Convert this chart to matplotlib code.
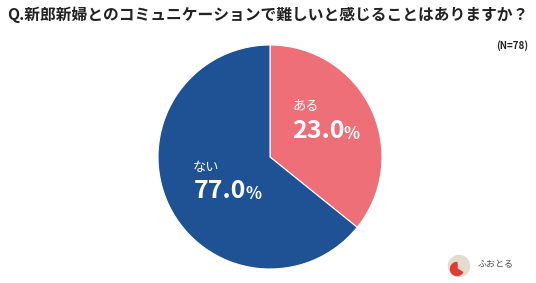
import matplotlib
matplotlib.use("Agg")
import matplotlib.pyplot as plt
from matplotlib.patches import Circle, Wedge

plt.rcParams['font.family'] = ['Noto Sans CJK JP', 'DejaVu Sans']

# data (wedge sizes as drawn, labels as printed)
categories = ['ある', 'ない']
labels_pct = ['23.0', '77.0']
wedge_sizes = [35.8, 64.2]
colors = ['#EE6F78', '#1E5295']
title = 'Q.新郎新婦とのコミュニケーションで難しいと感じることはありますか？'
n_note = '(N=78)'

W, H = 536, 283
fig = plt.figure(figsize=(W / 100, H / 100), dpi=100)
fig.patch.set_facecolor('white')

# pie axes: centre (270,157) px, radius 112 px
cx, cy, r = 270, 157, 112
ax = fig.add_axes([(cx - r) / W, (H - cy - r) / H, 2 * r / W, 2 * r / H])
ax.pie(wedge_sizes, colors=colors, startangle=90, counterclock=False, radius=1,
       wedgeprops=dict(edgecolor='white', linewidth=0.8))
ax.set_xlim(-1, 1)
ax.set_ylim(-1, 1)
ax.set_aspect('equal')
ax.axis('off')


def px(x, y):
    return (x - cx) / r, (cy - y) / r


fig.canvas.draw()
renderer = fig.canvas.get_renderer()

label_pos = [(292, 106, 292, 131), (193, 167, 194, 191)]
for cat, pct, (lx, ly, nx, ny) in zip(categories, labels_pct, label_pos):
    ax.text(*px(lx, ly), cat, color='white', fontsize=9.5, ha='left', va='center')
    t = ax.text(*px(nx, ny), pct, color='white', fontsize=18, fontweight='bold',
                ha='left', va='center')
    bb = t.get_window_extent(renderer)
    x_end = ax.transData.inverted().transform((bb.x1, bb.y0))[0]
    ax.text(x_end - 0.012, (cy - ny) / r - 0.03, '%', color='white', fontsize=12,
            fontweight='bold', ha='left', va='center')

fig.text(7 / W, 1 - 15 / H, title, fontsize=11.35, fontweight='bold',
         color='#222222', ha='left', va='center')
fig.text(528 / W, 1 - 46 / H, n_note, fontsize=7, fontweight='bold',
         color='#222222', ha='right', va='center')

# small logo at the bottom right
lax = fig.add_axes([440 / W, 0, 96 / W, 44 / H])
lax.set_xlim(0, 96)
lax.set_ylim(0, 44)
lax.set_aspect('equal')
lax.axis('off')
lax.add_patch(Circle((19, 17), 10.5, color='#E4DCCF'))
lax.add_patch(Wedge((17, 14), 6.5, 90, 330, color='#E03A35'))
lax.text(38, 18, 'ふおとる', fontsize=6.5, color='#555555', ha='left', va='center')

fig.savefig('out.png', dpi=100, facecolor='white')
